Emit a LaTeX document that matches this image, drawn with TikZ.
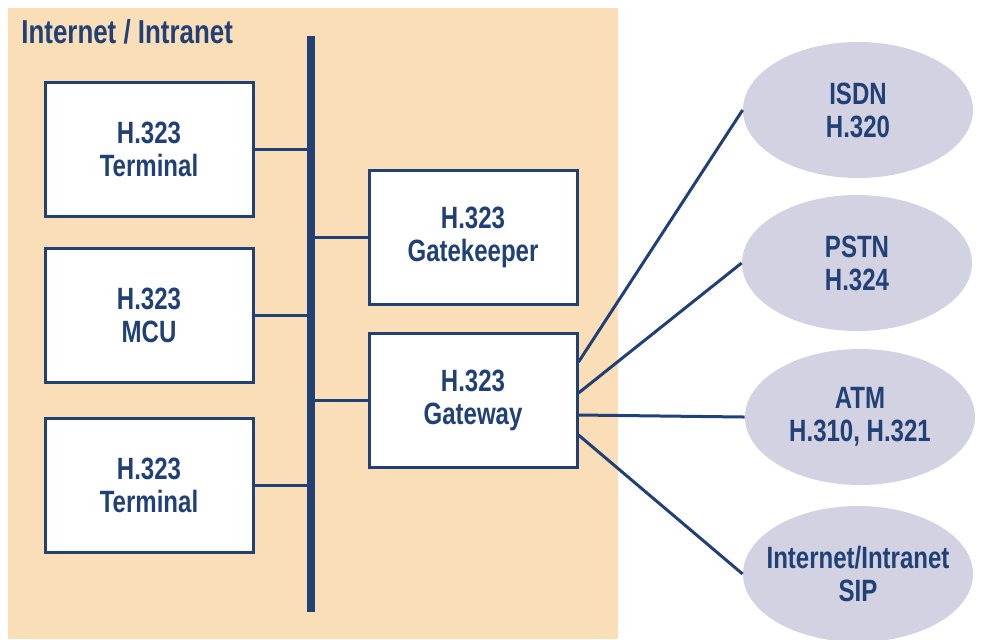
\documentclass[tikz,border=0pt]{standalone}
\usepackage{fontspec}
\setmainfont[FakeStretch=0.78]{Liberation Sans}
\usetikzlibrary{shapes.geometric}
\definecolor{navy}{RGB}{32,64,118}
\definecolor{peach}{RGB}{250,222,184}
\definecolor{lilac}{RGB}{210,210,226}
\begin{document}
\begin{tikzpicture}[x=0.5pt,y=-0.5pt,
    font=\bfseries\fontsize{15.4}{16.5}\selectfont,
    unit/.style={draw=navy,line width=1.5pt,fill=white,text=navy,align=center,
        minimum width=104pt,minimum height=67pt,inner sep=0pt},
    net/.style={ellipse,fill=lilac,minimum width=115pt,minimum height=68pt,inner sep=0pt},
    link/.style={draw=navy,line width=1.5pt}]
        \useasboundingbox (0,0) rectangle (988,639);
        
        % Shaded zone of the local network
        \fill[peach] (8,8) rectangle (618,639);
        \node[anchor=base west,inner sep=0pt,text=navy,font=\bfseries\fontsize{16.6}{18}\selectfont] (zone) at (21,43) {Internet / Intranet};
        
        % Backbone bus
        \coordinate (bustop) at (311,36);
        \coordinate (busbot) at (311,612);
        \draw[navy,line width=4pt] (bustop) -- (busbot);
        
        % H.323 units on the left of the bus
        \node[unit] (term1) at (149,149) {H.323\\Terminal};
        \node[unit] (mcu) at (149,315) {H.323\\MCU};
        \node[unit] (term2) at (149,485) {H.323\\Terminal};
        
        % H.323 units on the right of the bus
        \node[unit] (gk) at (473,237) {H.323\\Gatekeeper};
        \node[unit] (gw) at (473,400) {H.323\\Gateway};
        
        % Taps onto the bus
        \foreach \u in {term1,mcu,term2} {
            \draw[link] (\u.east) -- (\u.east -| bustop);
        }
        \foreach \u in {gk,gw} {
            \draw[link] (\u.west) -- (\u.west -| bustop);
        }
        
        % Other networks
        \node[net,label={[text=navy,align=center]center:ISDN\\H.320}] (isdn) at (858,110) {};
        \node[net,label={[text=navy,align=center]center:PSTN\\H.324}] (pstn) at (857,263) {};
        \node[net,label={[text=navy,align=center]center:ATM\\H.310, H.321}] (atm) at (860,417) {};
        \node[net,label={[text=navy,align=center]center:Internet/Intranet\\SIP}] (sip) at (858,574) {};
        
        % Gateway links to the other networks
        \draw[link] ([yshift=19pt]gw.east) -- (isdn.west);
        \draw[link] ([yshift=3.5pt]gw.east) -- (pstn.west);
        \draw[link] ([yshift=-7.5pt]gw.east) -- (atm.west);
        \draw[link] ([yshift=-17.5pt]gw.east) -- (sip.west);
\end{tikzpicture}
\end{document}
